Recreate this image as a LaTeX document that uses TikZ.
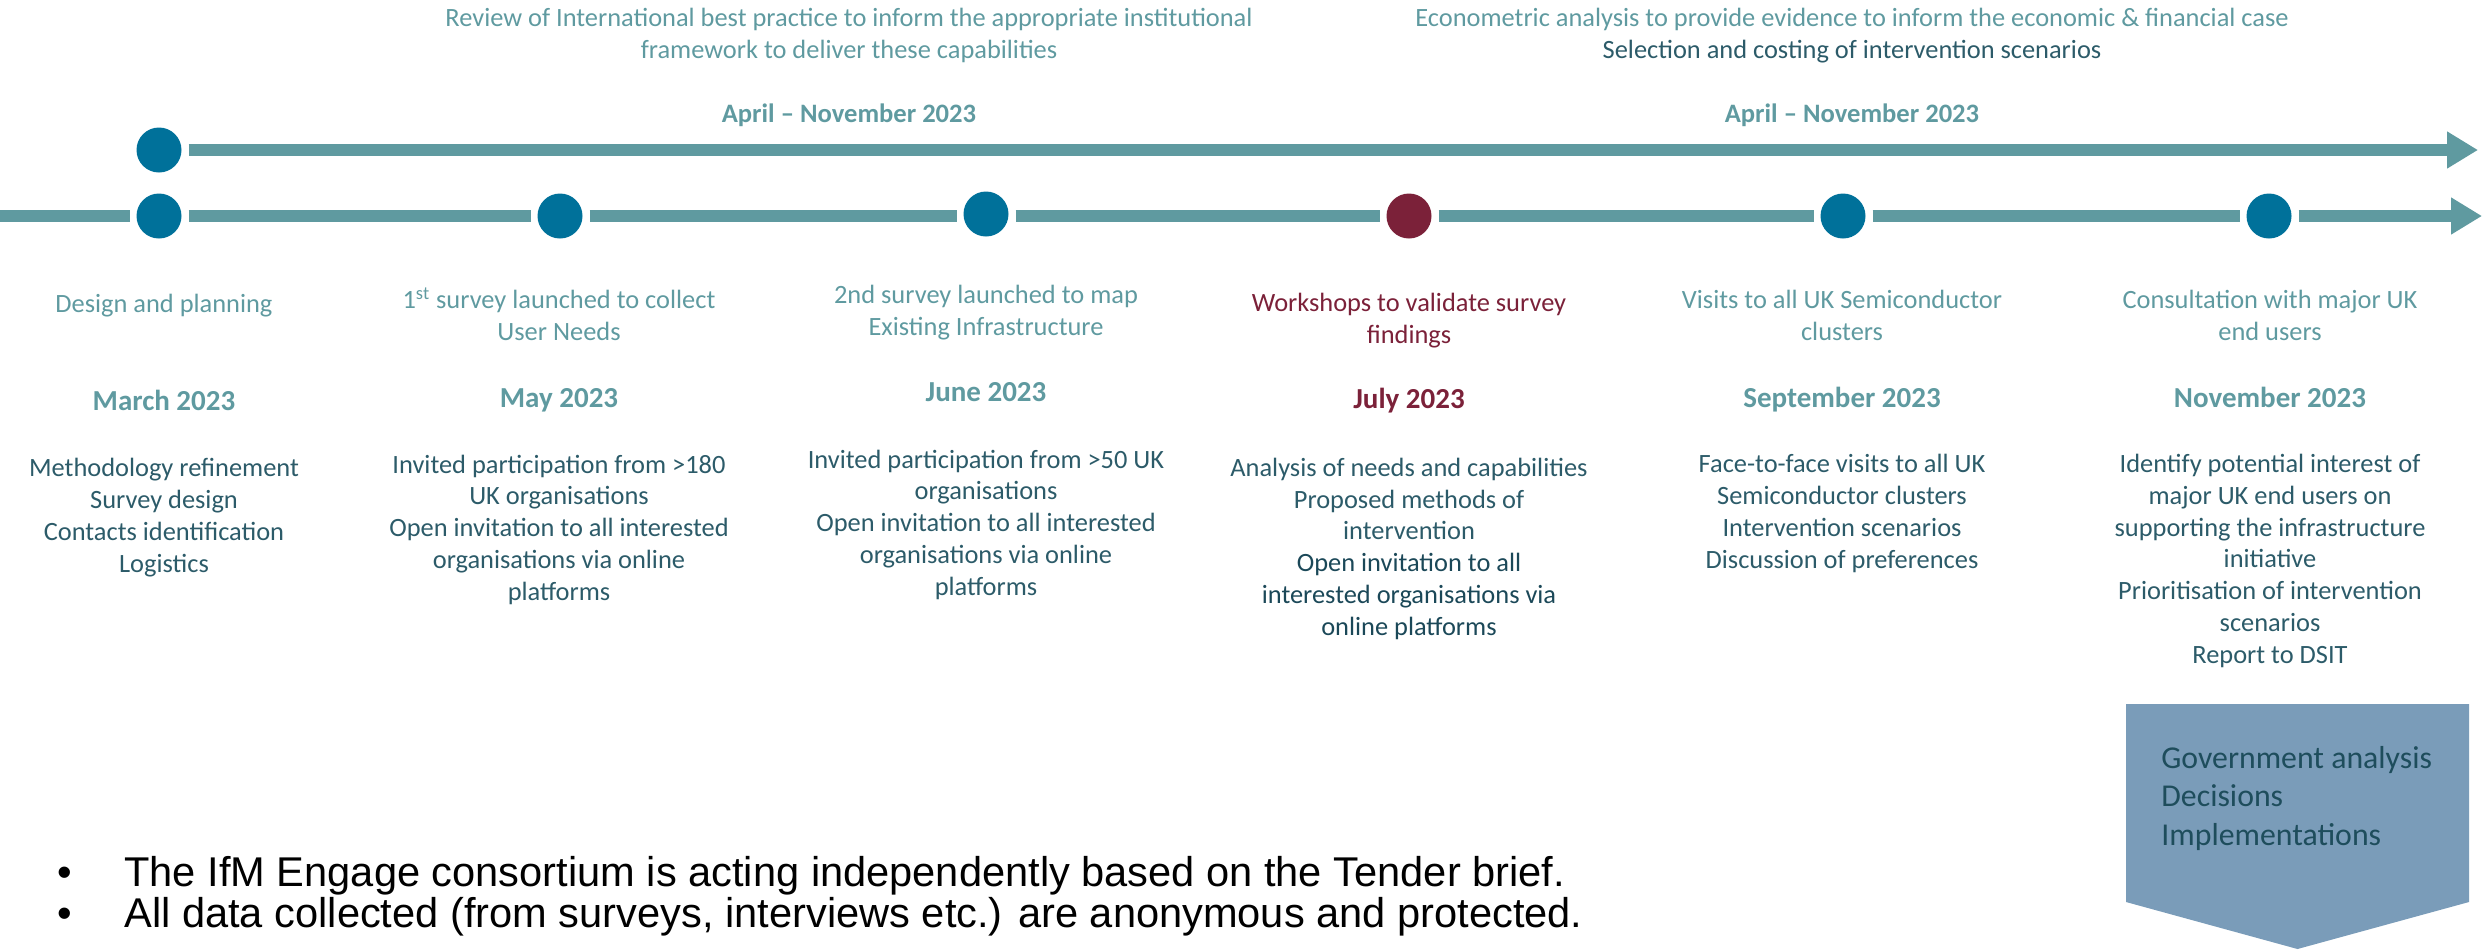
\documentclass[tikz,border=0pt]{standalone}
\usepackage{fontspec}
\setmainfont{Carlito}
\newfontfamily\notefont{Liberation Sans}
\usetikzlibrary{arrows.meta}
\definecolor{lineteal}{HTML}{5F9AA0}
\definecolor{dotblue}{HTML}{00719A}
\definecolor{wine}{HTML}{7B2139}
\definecolor{bodytext}{HTML}{2C5B69}
\definecolor{darktext}{HTML}{1B4858}
\definecolor{chevfill}{HTML}{7A9CB9}
\definecolor{chevtext}{HTML}{1E4D5C}
\begin{document}
% Multi-line nodes are placed by the baseline of their last line.
\begin{tikzpicture}[x=0.5pt,y=-0.5pt,
  dot/.style={circle,minimum size=22.5pt,inner sep=0pt,outer sep=3.5pt,fill=dotblue},
  track/.style={draw=lineteal,line width=6pt},
  arrowtrack/.style={track,-{Triangle[length=15.5pt,width=17.5pt]}},
  head/.style={anchor=base,align=center,inner sep=0pt,text=lineteal,font=\fontsize{13.2}{16}\selectfont},
  date/.style={anchor=base,inner sep=0pt,text=lineteal,font=\fontsize{14.5}{17}\selectfont\bfseries},
  span/.style={date,font=\fontsize{13.3}{16}\selectfont\bfseries},
  body/.style={anchor=base,align=center,inner sep=0pt,text=bodytext,font=\fontsize{13.2}{15.85}\selectfont},
  note/.style={anchor=base west,inner sep=0pt,font=\notefont\fontsize{20.8}{24}\selectfont},
]
\useasboundingbox (0,0) rectangle (2484,949);

% ---- top track: parallel study streams ----
\node[head] (rev) at (849,58) {Review of International best practice to inform the appropriate institutional\\framework to deliver these capabilities};
\node[head] (eco) at (1852,58) {Econometric analysis to provide evidence to inform the economic \& financial case\\\textcolor{bodytext}{Selection and costing of intervention scenarios}};
\node[span] (aprA) at (849,122) {April – November 2023};
\node[span] (aprB) at (1852,122) {April – November 2023};

\node[dot] (t1) at (159,150) {};
\coordinate (tend) at (2478,150);
\draw[arrowtrack] (t1) -- (tend);

% ---- main timeline ----
\coordinate (start) at (0,216);
\coordinate (mend) at (2482,216);
\node[dot] (m1) at (159,216) {};
\node[dot] (m2) at (560,216) {};
\node[dot] (m3) at (986,214) {};
\node[dot,fill=wine] (m4) at (1409,216) {};
\node[dot] (m5) at (1843,216) {};
\node[dot] (m6) at (2269,216) {};
\draw[track] (start) -- (m1);
\draw[track] (m1) -- (m2);
\draw[track] (m2) -- (m3.west |- m2);
\draw[track] (m3.east |- m4) -- (m4);
\draw[track] (m4) -- (m5);
\draw[track] (m5) -- (m6);
\draw[arrowtrack] (m6) -- (mend);

% ---- milestones ----
\node[head] (h1) at (164,312) {Design and planning};
\node[date] (d1) at (164,410) {March 2023};
\node[body] (b1) at (164,572) {Methodology refinement\\Survey design\\Contacts identification\\Logistics};

\node[head] (h2) at (559,340) {1\textsuperscript{st} survey launched to collect\\User Needs};
\node[date] (d2) at (559,407) {May 2023};
\node[body] (b2) at (559,600) {Invited participation from >180\\UK organisations\\Open invitation to all interested\\organisations via online\\platforms};

\node[head] (h3) at (986,335) {2nd survey launched to map\\Existing Infrastructure};
\node[date] (d3) at (986,401) {June 2023};
\node[body] (b3) at (986,595) {Invited participation from >50 UK\\organisations\\Open invitation to all interested\\organisations via online\\platforms};

\node[head,text=wine] (h4) at (1409,343) {Workshops to validate survey\\findings};
\node[date,text=wine] (d4) at (1409,408) {July 2023};
\node[body] (b4) at (1409,635) {Analysis of needs and capabilities\\Proposed methods of\\intervention\\\textcolor{darktext}{Open invitation to all}\\\textcolor{darktext}{interested organisations via}\\\textcolor{darktext}{online platforms}};

\node[head] (h5) at (1842,340) {Visits to all UK Semiconductor\\clusters};
\node[date] (d5) at (1842,407) {September 2023};
\node[body] (b5) at (1842,568) {Face-to-face visits to all UK\\Semiconductor clusters\\Intervention scenarios\\Discussion of preferences};

\node[head] (h6) at (2270,340) {Consultation with major UK\\end users};
\node[date] (d6) at (2270,407) {November 2023};
\node[body] (b6) at (2270,663) {Identify potential interest of\\major UK end users on\\supporting the infrastructure\\initiative\\Prioritisation of intervention\\scenarios\\Report to DSIT};

% ---- follow-on chevron ----
\fill[chevfill] (2126,704) -- (2469,704) -- (2469,902) -- (2297.5,949) -- (2126,902) -- cycle;
\node[anchor=base west,align=left,inner sep=0pt,text=chevtext,font=\fontsize{15.9}{19.2}\selectfont] (gov) at (2161,845) {Government analysis\\Decisions\\Implementations};

% ---- notes ----
\node[note,anchor=base] (bul1) at (65,886) {•};
\node[note,anchor=base] (bul2) at (65,927) {•};
\node[note] (n1) at (124,886) {The IfM Engage consortium is acting independently based on the Tender brief.};
\node[note] (n2) at (124,927) {All data collected (from surveys, interviews etc.) are anonymous and protected.};
\end{tikzpicture}
\end{document}
